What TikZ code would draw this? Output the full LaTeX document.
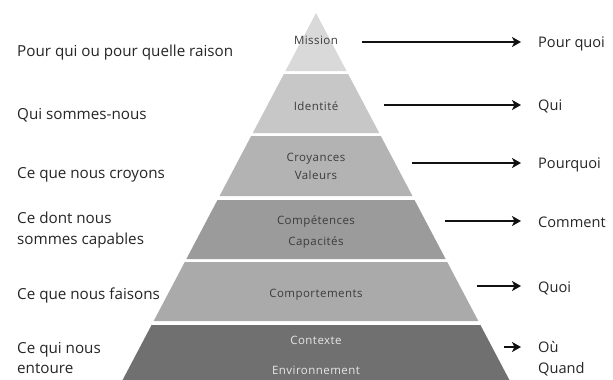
\documentclass[tikz,border=0pt]{standalone}
\usepackage{fontspec}
\setmainfont{Open Sans}
\newfontfamily\pyrfont[LetterSpace=4]{Open Sans}
\usetikzlibrary{arrows.meta}
\definecolor{cMission}{HTML}{D9D9D9}
\definecolor{cIdent}{HTML}{C7C7C7}
\definecolor{cCroy}{HTML}{B3B3B3}
\definecolor{cComp}{HTML}{9B9B9B}
\definecolor{cCompo}{HTML}{AAAAAA}
\definecolor{cCont}{HTML}{707070}
\definecolor{txt}{HTML}{262626}
\definecolor{ptx}{HTML}{3C3C3C}
\definecolor{ptxlight}{HTML}{E6E6E6}
\definecolor{arrc}{HTML}{111111}
\newcommand\pyrlayer[3]{%
  \fill[#3] ({316-0.527*(#1-13)},#1) -- ({316+0.527*(#1-13)},#1) --
    ({316+0.527*(#2-13)},#2) -- ({316-0.527*(#2-13)},#2) -- cycle;}
\begin{document}
\begin{tikzpicture}[x=1pt,y=-1pt,
  lbl/.style={anchor=base west, inner sep=0pt, font=\fontsize{15.2}{20}\selectfont, text=txt},
  rlbl/.style={lbl, font=\fontsize{14.6}{20}\selectfont},
  ptxt/.style={anchor=base, inner sep=0pt, font=\pyrfont\fontsize{11.5}{13}\selectfont, text=ptx},
  arr/.style={line width=2.8pt, draw=arrc, -{Stealth[length=9pt,width=10pt,inset=2.5pt]}}]
\useasboundingbox[fill=white] (0,0) rectangle (613,380);
% pyramid layers
\pyrlayer{13}{71}{cMission}
\pyrlayer{74}{133}{cIdent}
\pyrlayer{136}{196}{cCroy}
\pyrlayer{200}{259}{cComp}
\pyrlayer{262}{321}{cCompo}
\pyrlayer{325}{382}{cCont}
% pyramid texts
\node[ptxt] (p1) at (316,44) {Mission};
\node[ptxt] (p2) at (316,110) {Identité};
\node[ptxt] (p3a) at (316,161) {Croyances};
\node[ptxt] (p3b) at (316,179) {Valeurs};
\node[ptxt] (p4a) at (316,224) {Compétences};
\node[ptxt] (p4b) at (316,245) {Capacités};
\node[ptxt] (p5) at (316,297) {Comportements};
\node[ptxt, text=ptxlight] (p6a) at (316,344) {Contexte};
\node[ptxt, text=ptxlight] (p6b) at (316,374) {Environnement};
% left labels
\node[lbl] (l1) at (17,56) {Pour qui ou pour quelle raison};
\node[lbl] (l2) at (17,119) {Qui sommes-nous};
\node[lbl] (l3) at (17,178) {Ce que nous croyons};
\node[lbl] (l4a) at (17,223) {Ce dont nous};
\node[lbl] (l4b) at (17,244) {sommes capables};
\node[lbl] (l5) at (17,299) {Ce que nous faisons};
\node[lbl] (l6a) at (17,353) {Ce qui nous};
\node[lbl] (l6b) at (17,373) {entoure};
% right labels
\node[rlbl] (r1) at (538,47) {Pour quoi};
\node[rlbl] (r2) at (538,110) {Qui};
\node[rlbl] (r3) at (538,168) {Pourquoi};
\node[rlbl] (r4) at (538,227) {Comment};
\node[rlbl] (r5) at (538,292) {Quoi};
\node[rlbl] (r6a) at (538,352) {Où};
\node[rlbl] (r6b) at (538,373) {Quand};
% arrows
\coordinate (s1) at (362,42);  \coordinate (e1) at (521,42);
\coordinate (s2) at (384,105); \coordinate (e2) at (521,105);
\coordinate (s3) at (412,163); \coordinate (e3) at (521,163);
\coordinate (s4) at (445,221); \coordinate (e4) at (521,221);
\coordinate (s5) at (477,286); \coordinate (e5) at (521,286);
\coordinate (s6) at (504,347); \coordinate (e6) at (521,347);
\foreach \i in {1,...,6} {\draw[arr] (s\i) -- (e\i);}
\end{tikzpicture}
\end{document}
